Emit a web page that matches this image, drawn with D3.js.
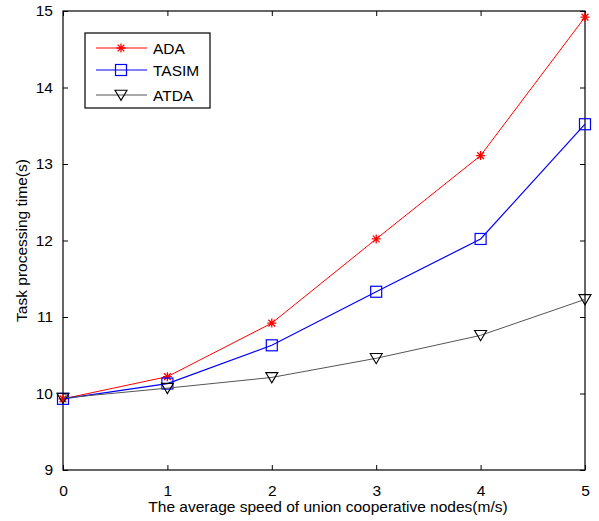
<!DOCTYPE html>
<html><head><meta charset="utf-8">
<script src="https://cdn.jsdelivr.net/npm/d3@7"></script>
<style>body{margin:0;background:#fff}svg text{font-family:Arial,"Liberation Sans",sans-serif;}</style>
</head><body><svg id="c" width="599" height="521"></svg>
<script>
const speeds = [0, 1, 2, 3, 4, 5];
const ada = [9.93, 10.22, 10.92, 12.02, 13.11, 14.92];
const tasim = [9.93, 10.13, 10.63, 11.33, 12.02, 13.52];
const atda = [9.94, 10.07, 10.21, 10.46, 10.76, 11.23];
const xTicks = [0, 1, 2, 3, 4, 5];
const yTicks = [9, 10, 11, 12, 13, 14, 15];
const seriesNames = ["ADA", "TASIM", "ATDA"];

const FS = 15.5;
const svg = d3.select("#c");
const L = 63, R = 585, T = 11, B = 470;
const x = d3.scaleLinear().domain([0, 5]).range([L, R]);
const y = d3.scaleLinear().domain([9, 15]).range([B, T]);

const g = svg.append("g");
g.append("rect").attr("x", L).attr("y", T).attr("width", R - L).attr("height", B - T)
  .attr("fill", "none").attr("stroke", "#000").attr("stroke-width", 1.2);

const tl = 5;
const xb = g.append("g").attr("transform", `translate(0,${B})`)
  .call(d3.axisBottom(x).tickValues(xTicks).tickSizeInner(-tl).tickSizeOuter(0).tickPadding(15).tickFormat(d3.format("d")));
const xt = g.append("g").attr("transform", `translate(0,${T})`)
  .call(d3.axisTop(x).tickValues(xTicks).tickSizeInner(-tl).tickSizeOuter(0).tickFormat(""));
const yl = g.append("g").attr("transform", `translate(${L},0)`)
  .call(d3.axisLeft(y).tickValues(yTicks).tickSizeInner(-tl).tickSizeOuter(0).tickPadding(10).tickFormat(d3.format("d")));
const yr = g.append("g").attr("transform", `translate(${R},0)`)
  .call(d3.axisRight(y).tickValues(yTicks).tickSizeInner(-tl).tickSizeOuter(0).tickFormat(""));
[xb, xt, yl, yr].forEach(a => {
  a.select(".domain").remove();
  a.selectAll("line").attr("stroke", "#000");
  a.selectAll("text").attr("font-size", FS).attr("fill", "#000").style("font-family", "Arial, 'Liberation Sans', sans-serif");
});

svg.append("text").attr("x", (L + R) / 2 + 4).attr("y", 512).attr("text-anchor", "middle")
  .attr("font-size", FS).text("The average speed of union cooperative nodes(m/s)");
svg.append("text").attr("transform", `translate(27,${(T + B) / 2}) rotate(-90)`).attr("text-anchor", "middle")
  .attr("font-size", FS).text("Task processing time(s)");

const series = [
  {name: seriesNames[0], vals: ada, color: "#ff0000", lw: 1, marker: "star"},
  {name: seriesNames[1], vals: tasim, color: "#0000ff", lw: 1.2, marker: "square"},
  {name: seriesNames[2], vals: atda, color: "#555555", mcolor: "#000", lw: 1, marker: "tri"}
];

function drawMarker(sel, type, cx, cy, color) {
  if (type === "square") {
    sel.append("rect").attr("x", cx - 5.5).attr("y", cy - 5.5).attr("width", 11).attr("height", 11)
      .attr("fill", "none").attr("stroke", color).attr("stroke-width", 1.2);
  } else if (type === "tri") {
    const s = 6;
    sel.append("path").attr("d", `M${cx - s},${cy - s * 0.8}L${cx + s},${cy - s * 0.8}L${cx},${cy + s * 0.9}Z`)
      .attr("fill", "none").attr("stroke", color).attr("stroke-width", 1.1);
  } else {
    const s = 4.5;
    let d = `M${cx},${cy - s}L${cx},${cy + s}M${cx - s},${cy}L${cx + s},${cy}`;
    d += `M${cx - s * 0.75},${cy - s * 0.75}L${cx + s * 0.75},${cy + s * 0.75}M${cx - s * 0.75},${cy + s * 0.75}L${cx + s * 0.75},${cy - s * 0.75}`;
    sel.append("path").attr("d", d).attr("stroke", color).attr("stroke-width", 1.3).attr("fill", "none");
  }
}

series.forEach(s => {
  const line = d3.line().x((d, i) => x(speeds[i])).y(d => y(d));
  g.append("path").datum(s.vals).attr("d", line).attr("fill", "none")
    .attr("stroke", s.color).attr("stroke-width", s.lw);
  const mg = g.append("g");
  s.vals.forEach((v, i) => drawMarker(mg, s.marker, x(speeds[i]), y(v), s.mcolor || s.color));
});

const lg = svg.append("g");
lg.append("rect").attr("x", 85).attr("y", 33).attr("width", 125).attr("height", 75)
  .attr("fill", "#fff").attr("stroke", "#000").attr("stroke-width", 1.2);
const rows = [48, 70, 95];
series.forEach((s, i) => {
  const yy = rows[i];
  lg.append("line").attr("x1", 96).attr("x2", 147).attr("y1", yy).attr("y2", yy)
    .attr("stroke", s.color).attr("stroke-width", s.lw);
  drawMarker(lg, s.marker, 121, yy, s.mcolor || s.color);
  lg.append("text").attr("x", 153).attr("y", yy + 5.5).attr("font-size", FS).text(s.name);
});
</script></body></html>
